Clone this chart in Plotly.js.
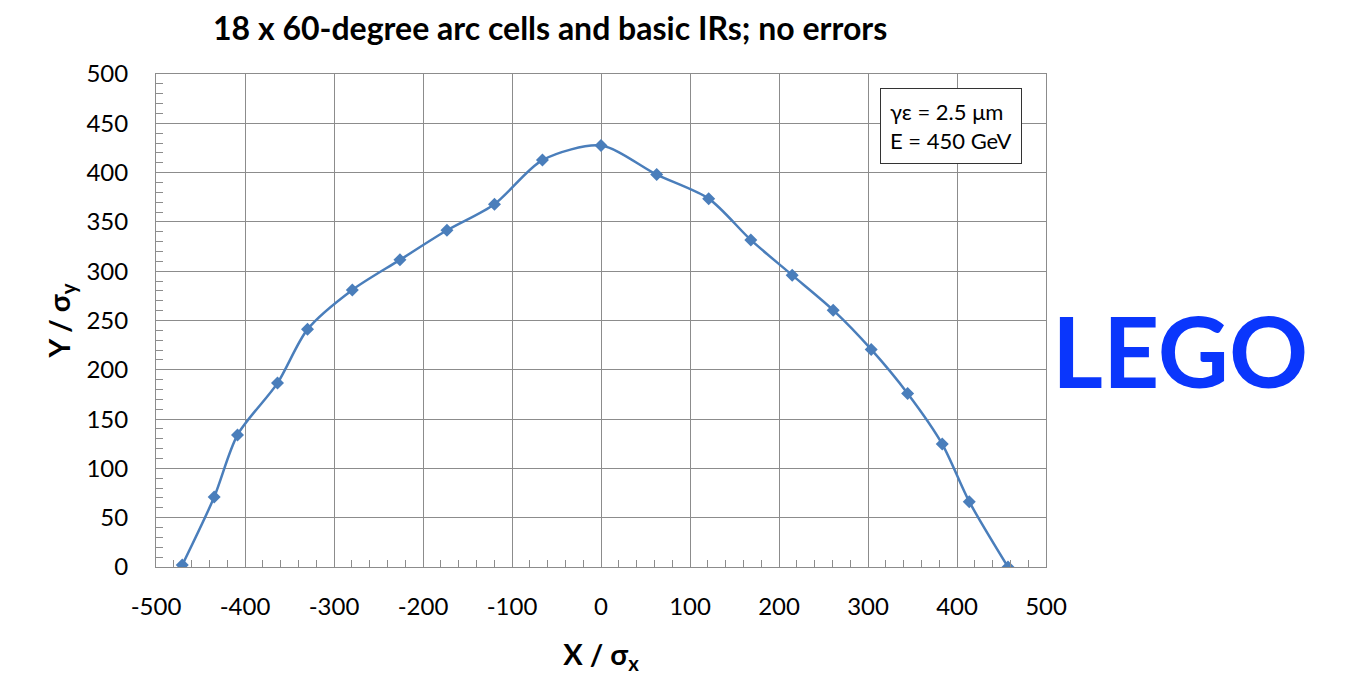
<!DOCTYPE html>
<html>
<head>
<meta charset="utf-8">
<script src="https://cdn.plot.ly/plotly-3.0.1.min.js"></script>
<style>html,body{margin:0;padding:0;background:#fff;}#chart{width:1358px;height:675px;}</style>
</head>
<body>
<div id="chart"></div>
<script>
const xValues = [-470.5, -434.6, -408.4, -363.5, -329.8, -279.4, -225.9, -173.1, -119.7, -65.8, 0, 62.6, 121, 168.3, 214.8, 260.9, 303.6, 344.5, 383.4, 413.8, 457.3];
const yValues = [2, 71, 134, 186.5, 241, 281, 311.5, 341.5, 368, 412.7, 427.4, 398, 373.6, 331.7, 296, 260.5, 220.7, 176, 124.7, 66.3, 0];
const xTickVals = [-500, -400, -300, -200, -100, 0, 100, 200, 300, 400, 500];
const xTickText = ['-500', '-400', '-300', '-200', '-100', '0', '100', '200', '300', '400', '500'];
const yTickVals = [0, 50, 100, 150, 200, 250, 300, 350, 400, 450, 500];
const yTickText = ['0', '50', '100', '150', '200', '250', '300', '350', '400', '450', '500'];
const chartTitle = '18 x 60-degree arc cells and basic IRs; no errors';
const xTitle = 'X / σ<sub>x</sub>';
const yTitle = 'Y / σ<sub>y</sub>';
const boxLines = ['γε = 2.5 μm', 'E = 450 GeV'];
const sideLabel = 'LEGO';

const FONT = 'Lato, "Open Sans", sans-serif';
const gridColor = '#8c8c8c';

const trace = {
  x: xValues, y: yValues, type: 'scatter', mode: 'lines+markers',
  line: {color: '#4a7ebb', width: 2.5, shape: 'spline', smoothing: 0.8},
  marker: {symbol: 'diamond', size: 10, color: '#4a7ebb'},
  hoverinfo: 'x+y'
};

const layout = {
  width: 1358, height: 675,
  margin: {l: 156, r: 312, t: 74, b: 108},
  paper_bgcolor: '#fff', plot_bgcolor: '#fff',
  showlegend: false,
  font: {family: FONT, color: '#000', size: 24},
  xaxis: {
    range: [-500, 500], tickmode: 'array', tickvals: xTickVals, ticktext: xTickText,
    showgrid: true, gridcolor: gridColor, gridwidth: 1,
    showline: true, linecolor: gridColor, linewidth: 1, mirror: true,
    zeroline: false,
    ticks: 'inside', ticklen: 7, tickcolor: gridColor,
    minor: {dtick: 20, tick0: -500, ticks: 'inside', ticklen: 7, tickcolor: gridColor, showgrid: false},
    ticklabelstandoff: 18,
    tickfont: {size: 24, family: FONT, color: '#000'},
    title: {text: xTitle, font: {size: 29, family: FONT, color: '#000', weight: 'bold'}, standoff: 26}
  },
  yaxis: {
    range: [0, 500], tickmode: 'array', tickvals: yTickVals, ticktext: yTickText,
    showgrid: true, gridcolor: gridColor, gridwidth: 1,
    showline: true, linecolor: gridColor, linewidth: 1, mirror: true,
    zeroline: false,
    ticks: 'inside', ticklen: 7, tickcolor: gridColor,
    minor: {dtick: 10, tick0: 0, ticks: 'inside', ticklen: 7, tickcolor: gridColor, showgrid: false},
    ticklabelstandoff: 22,
    tickfont: {size: 24, family: FONT, color: '#000'},
    title: {text: yTitle, font: {size: 29, family: FONT, color: '#000', weight: 'bold'}, standoff: 7}
  },
  annotations: [
    {text: '<b>' + chartTitle + '</b>', xref: 'paper', yref: 'paper', x: (550 - 156) / 890, y: (567 - 28) / 493,
     xanchor: 'center', yanchor: 'middle', showarrow: false, font: {size: 32, family: FONT, color: '#000'}},
    {text: boxLines.join('<br>'), xref: 'x', yref: 'y', x: 393, y: 447, xanchor: 'center', yanchor: 'middle',
     showarrow: false, align: 'left', bgcolor: '#fff', bordercolor: '#333', borderwidth: 1, borderpad: 9,
     font: {size: 22, family: FONT, color: '#000'}},
    {text: '<b>' + sideLabel + '</b>', xref: 'paper', yref: 'paper', x: (1180 - 156) / 890, y: (567 - 350) / 493,
     xanchor: 'center', yanchor: 'middle', showarrow: false, font: {size: 98, family: FONT, color: '#0a36fc'}}
  ]
};

Plotly.newPlot('chart', [trace], layout, {displayModeBar: false, staticPlot: true});
</script>
</body>
</html>
